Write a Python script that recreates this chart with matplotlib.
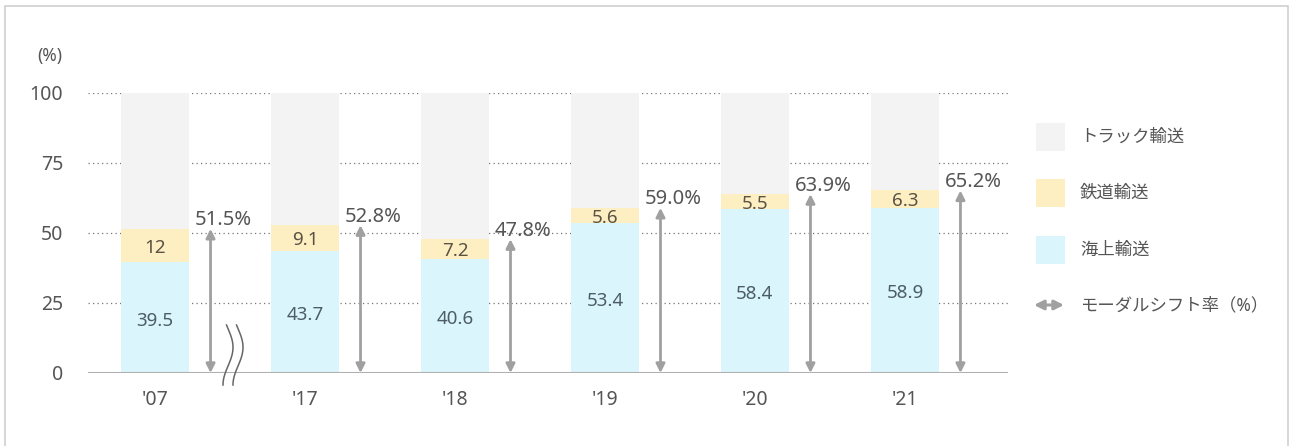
import numpy as np
import matplotlib
matplotlib.use("Agg")
import matplotlib.pyplot as plt
from matplotlib.patches import Rectangle, FancyArrowPatch
from matplotlib.lines import Line2D

plt.rcParams['font.family'] = ['Noto Sans', 'Noto Sans CJK JP', 'DejaVu Sans']

years = ["'07", "'17", "'18", "'19", "'20", "'21"]
sea = [39.5, 43.7, 40.6, 53.4, 58.4, 58.9]
rail = [12, 9.1, 7.2, 5.6, 5.5, 6.3]
rail_labels = ["12", "9.1", "7.2", "5.6", "5.5", "6.3"]
shift_rate = [51.5, 52.8, 47.8, 59.0, 63.9, 65.2]
yticks = [0, 25, 50, 75, 100]
legend_labels = ["トラック輸送", "鉄道輸送", "海上輸送", "モーダルシフト率（%）"]

c_truck = '#f3f3f3'
c_rail = '#fdefc2'
c_sea = '#dbf5fc'
c_arrow = '#a0a0a0'
c_text = '#555555'
c_val = '#4d5d66'

W, H = 1290, 446
fig = plt.figure(figsize=(W / 100, H / 100), dpi=100)
fig.patch.set_facecolor('white')

# outer frame
fig.add_artist(Rectangle((5 / W, -0.1), (1288 - 5) / W, 1.1 - 6 / H,
                         transform=fig.transFigure, fill=False,
                         edgecolor='#d0d0d0', linewidth=1.2))

ax = fig.add_axes([88 / W, 1 - 373 / H, 920 / W, 280 / H])
x = np.arange(len(years))
truck = [100 - s - r for s, r in zip(sea, rail)]
ax.set_xlim(-0.447, 5.687)
ax.set_ylim(0, 100)

for yv in yticks[1:]:
    ax.axhline(yv, color='#777777', linestyle=(0, (1, 2.6)), linewidth=0.9, zorder=1)
ax.axhline(0, color='#b0b0b0', linewidth=1.5, zorder=4, xmin=-0.004)

bw = 0.453
ax.bar(x, sea, width=bw, color=c_sea, zorder=2)
ax.bar(x, rail, bottom=sea, width=bw, color=c_rail, zorder=2)
ax.bar(x, truck, bottom=[s + r for s, r in zip(sea, rail)], width=bw, color=c_truck, zorder=2)

for i in range(len(years)):
    ax.text(x[i], sea[i] / 2 - 1, f"{sea[i]:.1f}", ha='center', va='center',
            fontsize=13.5, color=c_val, zorder=5)
    ax.text(x[i], sea[i] + rail[i] / 2 - 0.8, rail_labels[i], ha='center', va='center',
            fontsize=13.5, color='#5a5244', zorder=5)
    xa = x[i] + 0.37
    ax.annotate('', xy=(xa, shift_rate[i]), xytext=(xa, 0),
                arrowprops=dict(arrowstyle='<|-|>', color=c_arrow, lw=2,
                                mutation_scale=13, shrinkA=0, shrinkB=0),
                zorder=5, annotation_clip=False)
    ax.text(xa + 0.085, shift_rate[i] + 1.2, f"{shift_rate[i]:.1f}%", ha='center',
            va='baseline', fontsize=14.5, color=c_text, zorder=5, clip_on=False)

ax.set_xticks(x)
ax.set_xticklabels(years, fontsize=14, color=c_text)
ax.set_yticks(yticks)
ax.set_yticklabels([str(v) for v in yticks], fontsize=14, color=c_text)
ax.tick_params(length=0)
ax.tick_params(axis='x', pad=12)
ax.tick_params(axis='y', pad=18)
for sp in ax.spines.values():
    sp.set_visible(False)

fig.text(37 / W, 1 - 56 / H, "(%)", fontsize=12.5, color=c_text, va='center', ha='left')

# axis break mark
tt = np.linspace(0, 1, 60)
for dx in (0, 10):
    px = 228 + dx + 5 * np.sin(tt * np.pi * 1.6 - 0.3)
    py = 325 + 60 * tt
    fig.add_artist(Line2D(px / W, 1 - py / H, color='#666666', lw=1.1,
                          transform=fig.transFigure))

# legend
for (cy, col, lab) in [(137, c_truck, legend_labels[0]), (193, c_rail, legend_labels[1]),
                       (250, c_sea, legend_labels[2])]:
    fig.add_artist(Rectangle((1036 / W, 1 - (cy + 14) / H), 29 / W, 28 / H,
                             transform=fig.transFigure, facecolor=col, edgecolor='none'))
    fig.text(1080 / W, 1 - cy / H, lab, fontsize=12.5, color=c_text, va='center', ha='left')
fig.add_artist(FancyArrowPatch(
    (1034 / W, 1 - 305 / H), (1064 / W, 1 - 305 / H), transform=fig.transFigure,
    arrowstyle='<|-|>', color=c_arrow, lw=2.2, mutation_scale=14,
    shrinkA=0, shrinkB=0))
fig.text(1080 / W, 1 - 305 / H, legend_labels[3], fontsize=12.5, color=c_text,
         va='center', ha='left')

fig.savefig('out.png', dpi=100)
